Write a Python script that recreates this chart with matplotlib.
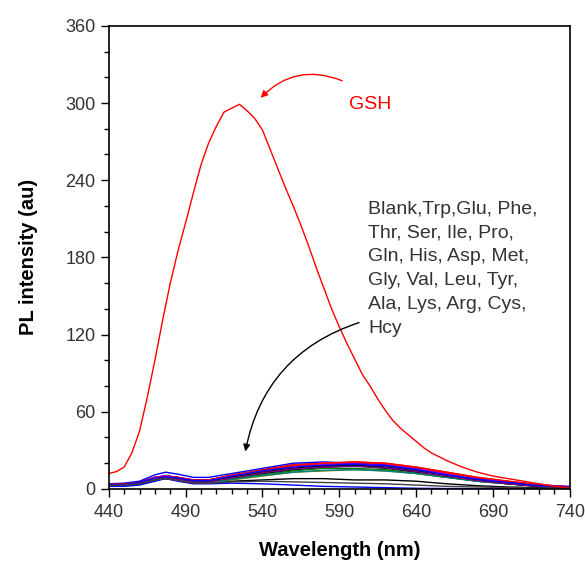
import matplotlib
matplotlib.use("Agg")
import matplotlib.pyplot as plt
from matplotlib.ticker import MultipleLocator

plt.rcParams['font.family'] = ['Liberation Sans', 'DejaVu Sans']

# GSH curve
gsh_wl = [440, 445, 450, 455, 460, 465, 470, 475, 480, 485, 490, 495, 500, 505, 510, 515, 520,
          525, 530, 535, 540, 545, 550, 555, 560, 565, 570, 575, 580, 585, 590, 595, 600, 605,
          610, 615, 620, 625, 630, 635, 640, 645, 650, 655, 660, 670, 680, 690, 700, 710, 720,
          730, 740]
gsh_int = [12, 13.5, 17, 28, 45, 71, 100, 131, 160, 185, 207, 230, 252, 269, 282, 293, 296,
           299, 294, 288, 279, 264, 249, 234, 220, 205, 189, 172, 156, 140, 126, 113, 101, 89,
           80, 70, 61, 53, 47, 42, 37, 32, 28, 25, 22, 17, 13, 10, 8, 6, 4,
           2, 1]

# Other analytes
wl = [440, 450, 460, 470, 477, 485, 495, 505, 520, 540, 560, 580, 600, 620, 640, 660, 680, 700, 720, 740]
names = ["Blank", "Trp", "Glu", "Phe", "Thr", "Ser", "Ile", "Pro", "Gln", "His", "Asp",
         "Met", "Gly", "Val", "Leu", "Tyr", "Ala", "Lys", "Arg", "Cys", "Hcy"]
colors = ["black", "red", "blue", "magenta", "#808000", "#000080", "red", "blue", "magenta",
          "black", "#008000", "#008080", "red", "blue", "magenta", "black", "#800080", "red",
          "blue", "blue", "#404040"]
blank = [3, 3, 4, 7, 8, 7, 5, 5, 6, 7, 8, 8, 7, 7, 6, 4, 2.5, 1.5, 1, 0.5]
trp = [3, 3.5, 5, 9, 10, 9, 7, 7, 11, 15, 19, 20, 21, 20, 17, 13, 9, 6, 3.5, 1.5]
glu = [4, 4.5, 6, 11, 13, 11.5, 9, 9, 12, 16, 20, 21, 20, 19, 16, 12, 8, 5, 3, 2]
phe = [3, 3.5, 5, 9, 10, 8.5, 6, 6, 9, 13, 16, 18, 19, 18, 15, 11, 8, 5, 3, 1.5]
thr = [2, 2.5, 4, 7, 8, 7, 4.5, 4.5, 7, 10, 13, 14, 15, 14, 12, 9, 6, 4, 2, 1]
ser = [3, 3, 4.5, 8, 9, 8, 5.5, 5.5, 8, 12, 15, 17, 18, 17, 14, 11, 7, 4.5, 2.5, 1]
ile = [3, 3.5, 5, 8.5, 9.5, 8.5, 6.5, 6.5, 10, 14, 17, 19, 20, 19, 16, 12, 8, 5, 3, 1.5]
pro = [3, 3.5, 5, 8.5, 9.5, 8, 6, 6, 9, 13, 16, 18, 18, 17, 14, 10, 7, 4, 2.5, 1]
gln = [3, 3, 4.5, 8, 9, 8, 6, 6, 9.5, 14, 17, 19, 20, 19, 16, 12, 8, 5, 3, 1.5]
his = [3, 3, 4.5, 8, 9, 7.5, 5.5, 5.5, 8.5, 12, 15, 17, 18, 16, 13, 10, 6, 4, 2, 1]
asp = [2.5, 3, 4, 7.5, 8.5, 7, 5, 5, 8, 11, 14, 16, 16, 15, 12, 9, 6, 4, 2, 1]
met = [2.5, 3, 4, 7, 8, 7, 4.5, 4.5, 7.5, 10.5, 13, 14.5, 15, 14, 12, 9, 6, 4, 2, 1]
gly = [3, 3.5, 5, 9, 10, 9, 6.5, 6.5, 10, 14, 18, 20, 20.5, 19.5, 16.5, 12.5, 8.5, 5.5, 3, 1.5]
val = [3.5, 4, 5.5, 9, 10.5, 9, 7, 7, 10, 14, 17, 19, 19.5, 18.5, 15.5, 11, 7.5, 5, 3, 1.5]
leu = [3, 3.5, 5, 9, 10, 8.5, 6.5, 6.5, 10, 14, 17, 19, 19, 18, 15, 11, 7.5, 5, 2.5, 1]
tyr = [3, 3.5, 4.5, 8.5, 9.5, 8, 6, 6, 9, 13, 16, 18, 18.5, 17, 14, 10, 7, 4, 2, 1]
ala = [3, 3, 4.5, 8, 9, 7.5, 5.5, 5.5, 8.5, 12.5, 15.5, 17, 17.5, 16.5, 13.5, 10, 6.5, 4, 2, 1]
lys = [3.5, 4, 5, 9, 10, 9, 7, 7, 10.5, 14.5, 18, 20, 21, 20, 17, 13, 9, 6, 3, 1.5]
arg = [3, 3.5, 5, 8.5, 9.5, 8.5, 6.5, 6.5, 10, 14, 17, 18.5, 19, 18, 15, 11, 7.5, 5, 2.5, 1.5]
cys = [2, 2, 3, 6, 8, 6, 4, 4, 4.5, 4, 3, 2, 1.5, 1, 0.5, 0.3, 0.2, 0.2, 0.2, 0.2]
hcy = [2.5, 3, 4, 7, 8, 6.5, 4.5, 4.5, 5.5, 6, 5.5, 5, 4.5, 4, 3, 2, 1.5, 1, 0.5, 0.3]
series = [blank, trp, glu, phe, thr, ser, ile, pro, gln, his, asp, met, gly, val, leu,
          tyr, ala, lys, arg, cys, hcy]

xticks = [440, 490, 540, 590, 640, 690, 740]
yticks = [0, 60, 120, 180, 240, 300, 360]

fig = plt.figure(figsize=(5.85, 5.62), dpi=100)
ax = fig.add_axes([0.186, 0.130, 0.788, 0.824])

for name, vals, c in zip(names, series, colors):
    ax.plot(wl, vals, color=c, lw=1.0, label=name)
ax.plot(gsh_wl, gsh_int, color='red', lw=1.0, label='GSH')

ax.set_xlim(440, 740)
ax.set_ylim(0, 360)
ax.set_xticks(xticks)
ax.set_yticks(yticks)
ax.xaxis.set_minor_locator(MultipleLocator(10))
ax.yaxis.set_minor_locator(MultipleLocator(20))
ax.tick_params(which='major', direction='out', length=6, width=1, labelsize=13,
               labelcolor='#333333', top=False, right=False)
ax.tick_params(axis='x', which='major', pad=5)
ax.tick_params(which='minor', direction='out', length=3.5, width=1, top=False, right=False)
for s in ax.spines.values():
    s.set_linewidth(1.2)

ax.set_xlabel('Wavelength (nm)', fontsize=14.5, fontweight='bold', labelpad=14)
ax.set_ylabel('PL intensity (au)', fontsize=14.5, fontweight='bold', labelpad=20)

ax.text(610, 298.5, 'GSH', color='red', fontsize=14, ha='center', va='center')
ax.annotate('', xy=(537.6, 302.5), xytext=(593.5, 316.5),
            arrowprops=dict(arrowstyle='-|>', color='red', lw=1.0,
                            connectionstyle='arc3,rad=0.35', mutation_scale=10))

ax.text(609, 224, 'Blank,Trp,Glu, Phe,\nThr, Ser, Ile, Pro,\nGln, His, Asp, Met,\n'
        'Gly, Val, Leu, Tyr,\nAla, Lys, Arg, Cys,\nHcy',
        fontsize=14, color='#333333', ha='left', va='top', linespacing=1.52)
ax.annotate('', xy=(528.5, 27), xytext=(604.6, 130),
            arrowprops=dict(arrowstyle='-|>', color='black', lw=1.0,
                            connectionstyle='arc3,rad=0.3', mutation_scale=10))

fig.savefig('out.png', dpi=100)
